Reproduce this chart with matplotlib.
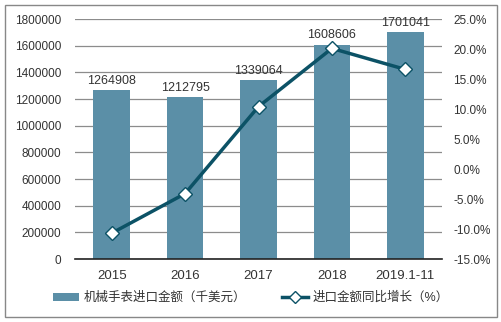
import matplotlib
matplotlib.use("Agg")
import matplotlib.pyplot as plt
from matplotlib.patches import Rectangle
from matplotlib.lines import Line2D
from matplotlib.patches import Patch

plt.rcParams['font.family'] = ['Liberation Sans', 'Noto Sans CJK SC', 'DejaVu Sans']

categories = ['2015', '2016', '2017', '2018', '2019.1-11']
import_value = [1264908, 1212795, 1339064, 1608606, 1701041]
growth_pct = [-10.7, -4.1, 10.4, 20.1, 16.6]
left_ticks = [0, 200000, 400000, 600000, 800000, 1000000, 1200000, 1400000, 1600000, 1800000]
right_ticks = [-15, -10, -5, 0, 5, 10, 15, 20, 25]

bar_color = '#5B8FA7'
line_color = '#0C5266'
text_color = '#333333'

fig = plt.figure(figsize=(5.02, 3.22), dpi=100)
fig.patches.append(Rectangle((5 / 502, 5 / 322), 492 / 502, 312 / 322, transform=fig.transFigure,
                             fill=False, edgecolor='#888888', linewidth=1.0))

ax = fig.add_axes([75 / 502, 1 - 259 / 322, 367 / 502, 240 / 322])
x = list(range(len(categories)))
ax.bar(x, import_value, width=0.5, color=bar_color, zorder=2)
ax.set_ylim(0, 1800000)
ax.set_xlim(-0.5, len(categories) - 0.5)
ax.set_yticks(left_ticks)
ax.set_yticklabels([str(v) for v in left_ticks], fontsize=8.5, color=text_color)
ax.set_xticks(x)
ax.set_xticklabels(categories, fontsize=9.5, color=text_color)
ax.tick_params(axis='x', length=0, pad=8)
ax.tick_params(axis='y', length=0, pad=10)
ax.yaxis.grid(True, color='#8c8c8c', linewidth=0.9, zorder=0)
ax.set_axisbelow(True)
for s in ['top', 'left', 'right']:
    ax.spines[s].set_visible(False)
ax.spines['bottom'].set_color('#222222')
ax.spines['bottom'].set_linewidth(1.2)
ax.spines['bottom'].set_zorder(3)

for xi, v in zip(x, import_value):
    ax.text(xi, v + 25000, str(v), ha='center', va='bottom', fontsize=9, color=text_color, zorder=4)

ax2 = ax.twinx()
ax2.plot(x, growth_pct, color=line_color, linewidth=2.5, marker='D', markersize=7,
         markerfacecolor='white', markeredgecolor=line_color, markeredgewidth=1.0, zorder=5)
ax2.set_ylim(-15, 25)
ax2.set_yticks(right_ticks)
ax2.set_yticklabels([f'{v:.1f}%' for v in right_ticks], fontsize=8.5, color=text_color)
ax2.tick_params(axis='y', length=0, pad=8)
for s in ['top', 'left', 'right', 'bottom']:
    ax2.spines[s].set_visible(False)

handles = [Patch(facecolor=bar_color, edgecolor='none'),
           Line2D([0], [0], color=line_color, linewidth=2.5, marker='D', markersize=6,
                  markerfacecolor='white', markeredgecolor=line_color)]
labels = ['机械手表进口金额（千美元）', '进口金额同比增长（%）']
fig.legend(handles, labels, loc='center', bbox_to_anchor=(0.5, 1 - 298 / 322), ncol=2,
           frameon=False, fontsize=9, handlelength=2.1, handleheight=0.6, columnspacing=2.8,
           handletextpad=0.4, labelcolor=text_color)

fig.savefig('out.png', dpi=100)
